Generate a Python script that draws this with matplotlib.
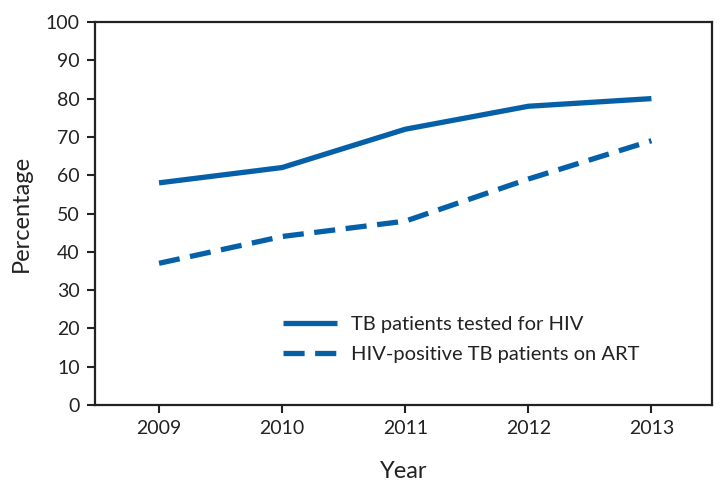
import matplotlib
matplotlib.use("Agg")
import matplotlib.pyplot as plt

plt.rcParams['font.family'] = ['Lato', 'DejaVu Sans']

years = [2009, 2010, 2011, 2012, 2013]
tested_hiv = [58, 62, 72, 78, 80]
on_art = [37, 44, 48, 59, 69]
yticks = list(range(0, 101, 10))

blue = '#0660a8'
ink = '#222222'

fig = plt.figure(figsize=(7.27, 4.92), dpi=100)
ax = fig.add_axes([0.1307, 0.1768, 0.8483, 0.7785])

ax.plot(years, tested_hiv, color=blue, lw=3.8, solid_capstyle='butt',
        label='TB patients tested for HIV')
ax.plot(years, on_art, color=blue, lw=3.8, dashes=(4, 2), dash_capstyle='butt',
        label='HIV-positive TB patients on ART')

ax.set_xlim(2008.48, 2013.49)
ax.set_ylim(0, 100)
ax.set_xticks(years)
ax.set_yticks(yticks)
ax.tick_params(direction='out', length=6, width=1.5, labelsize=14, color=ink,
               labelcolor=ink, pad=5)
for s in ax.spines.values():
    s.set_linewidth(1.6)
    s.set_color(ink)

ax.set_xlabel('Year', fontsize=17, color=ink, labelpad=17)
ax.set_ylabel('Percentage', fontsize=17, color=ink, labelpad=10)

ax.legend(loc='upper left', bbox_to_anchor=(0.305, 0.232), frameon=False,
          fontsize=14.5, handlelength=2.7, labelspacing=0.65, handletextpad=0.65,
          borderpad=0, borderaxespad=0, labelcolor=ink)

fig.savefig('out.png', dpi=100)
